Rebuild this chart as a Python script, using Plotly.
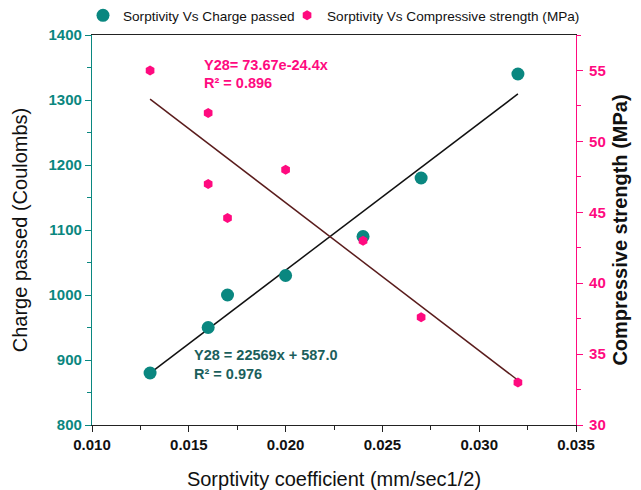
import numpy as np
import plotly.graph_objects as go

# Data
sorp_charge = [0.013, 0.016, 0.017, 0.020, 0.024, 0.027, 0.032]
charge_passed = [880, 950, 1000, 1030, 1090, 1180, 1340]

sorp_comp = [0.013, 0.016, 0.016, 0.017, 0.020, 0.024, 0.027, 0.032]
comp_strength = [55, 52, 47, 44.6, 48, 43, 37.6, 33]

x_ticks = [0.010, 0.015, 0.020, 0.025, 0.030, 0.035]
x_ticklabels = ["0.010", "0.015", "0.020", "0.025", "0.030", "0.035"]
left_ticks = [800, 900, 1000, 1100, 1200, 1300, 1400]
right_ticks = [30, 35, 40, 45, 50, 55]

TEAL = "#0a8780"
TEAL_DARK = "#1b5f5c"
PINK = "#ff0a7f"
BROWN = "#5a1c1c"
FONT = "Liberation Sans, Arial, sans-serif"

# Linear trend lines fitted from the data
c1 = np.polyfit(sorp_charge, charge_passed, 1)
c2 = np.polyfit(sorp_comp, comp_strength, 1)
xl1 = np.array([min(sorp_charge), max(sorp_charge)])
xl2 = np.array([min(sorp_comp), max(sorp_comp)])

fig = go.Figure()
fig.add_trace(go.Scatter(x=xl1, y=np.polyval(c1, xl1), mode="lines",
                         line=dict(color="#111111", width=1.5), showlegend=False,
                         hoverinfo="skip"))
fig.add_trace(go.Scatter(x=xl2, y=np.polyval(c2, xl2), mode="lines", yaxis="y2",
                         line=dict(color=BROWN, width=1.5), showlegend=False,
                         hoverinfo="skip"))
fig.add_trace(go.Scatter(x=sorp_charge, y=charge_passed, mode="markers",
                         name="Sorptivity Vs Charge passed", legend="legend",
                         marker=dict(color=TEAL, size=13)))
fig.add_trace(go.Scatter(x=sorp_comp, y=comp_strength, mode="markers", yaxis="y2",
                         name="Sorptivity Vs Compressive strength (MPa)", legend="legend2",
                         marker=dict(color=PINK, size=10, symbol="hexagon")))

ann_font_p = dict(family=FONT, size=14.5, color=PINK)
ann_font_t = dict(family=FONT, size=14.5, color=TEAL_DARK)
fig.add_annotation(x=0.01568, y=1354, xref="x", yref="y", xanchor="left", yanchor="middle",
                   text="<b>Y28= 73.67e-24.4x</b>", showarrow=False, font=ann_font_p)
fig.add_annotation(x=0.01568, y=1326, xref="x", yref="y", xanchor="left", yanchor="middle",
                   text="<b>R² = 0.896</b>", showarrow=False, font=ann_font_p)
fig.add_annotation(x=0.01517, y=907, xref="x", yref="y", xanchor="left", yanchor="middle",
                   text="<b>Y28 = 22569x + 587.0</b>", showarrow=False, font=ann_font_t)
fig.add_annotation(x=0.01517, y=879, xref="x", yref="y", xanchor="left", yanchor="middle",
                   text="<b>R² = 0.976</b>", showarrow=False, font=ann_font_t)

leg_common = dict(orientation="h", y=1.0, yref="container", yanchor="top",
                  font=dict(family=FONT, size=13.6, color="#111111"),
                  bgcolor="rgba(0,0,0,0)")

fig.update_layout(
    width=641, height=490,
    margin=dict(l=92, r=65, t=35, b=65, autoexpand=False),
    paper_bgcolor="white", plot_bgcolor="white",
    font=dict(family=FONT, color="#111111"),
    showlegend=True,
    legend=dict(x=-0.0186, xanchor="left", **leg_common),
    legend2=dict(x=0.403, xanchor="left", **leg_common),
    xaxis=dict(range=[0.010, 0.035], tickvals=x_ticks, ticktext=x_ticklabels,
               showgrid=False, zeroline=False, showline=True, linecolor="#222222",
               linewidth=1.2, mirror=True, ticks="outside", ticklen=6,
               tickcolor="#222222", automargin=False,
               minor=dict(ticks="outside", ticklen=4, dtick=0.0025, tickcolor="#222222"),
               tickfont=dict(family=FONT, size=15, color="#111111", weight="bold"),
               title=dict(text="Sorptivity coefficient (mm/sec1/2)", standoff=19,
                          font=dict(family=FONT, size=20, color="#111111"))),
    yaxis=dict(range=[800, 1400], tickvals=left_ticks, showgrid=False, zeroline=False,
               showline=True, linecolor=TEAL, linewidth=1.2, ticks="outside",
               ticklen=6, tickcolor=TEAL, automargin=False,
               minor=dict(ticks="outside", ticklen=4, dtick=50, tickcolor=TEAL),
               tickfont=dict(family=FONT, size=15, color=TEAL, weight="bold"),
               title=dict(text="Charge passed (Coulombs)", standoff=15,
                          font=dict(family=FONT, size=20, color="#111111"))),
    yaxis2=dict(range=[30, 57.5], tickvals=right_ticks, overlaying="y", side="right",
                showgrid=False, zeroline=False, showline=True, linecolor=PINK,
                linewidth=1.2, ticks="outside", ticklen=6, tickcolor=PINK,
                automargin=False, ticklabelstandoff=3,
                minor=dict(ticks="outside", ticklen=4, dtick=2.5, tickcolor=PINK),
                tickfont=dict(family=FONT, size=15, color=PINK, weight="bold"),
                title=dict(text="<b>Compressive strength (MPa)</b>", standoff=8,
                           font=dict(family=FONT, size=20, color="#111111"))),
)

fig.write_html("out.html")
